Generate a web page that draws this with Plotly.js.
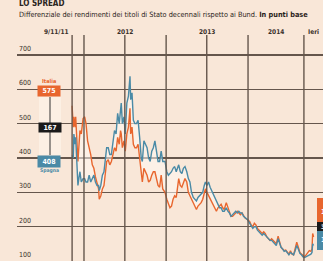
<!DOCTYPE html>
<html><head><meta charset="utf-8">
<script src="https://cdn.plot.ly/plotly-3.0.1.min.js"></script>
<style>html,body{margin:0;padding:0;background:#f9e7d8;overflow:hidden}#chart{width:323px;height:261px}</style>
</head><body><div id="chart"></div>
<script>
const dates = ["2011-11-09","2011-11-14","2011-11-17","2011-11-22","2011-11-25","2011-11-30","2011-12-05","2011-12-09","2011-12-14","2011-12-20","2011-12-28",
"2012-01-04","2012-01-10","2012-01-17","2012-01-24","2012-01-31","2012-02-07","2012-02-14","2012-02-21","2012-02-28","2012-03-06","2012-03-09","2012-03-16","2012-03-23","2012-03-30",
"2012-04-06","2012-04-11","2012-04-18","2012-04-25","2012-05-02","2012-05-09","2012-05-16","2012-05-23","2012-05-30","2012-06-06","2012-06-12","2012-06-15","2012-06-20","2012-06-27",
"2012-07-03","2012-07-10","2012-07-17","2012-07-24","2012-07-27","2012-08-02","2012-08-08","2012-08-15","2012-08-22","2012-08-29","2012-09-05","2012-09-12","2012-09-17","2012-09-24",
"2012-10-01","2012-10-08","2012-10-15","2012-10-22","2012-10-29","2012-11-05","2012-11-12","2012-11-19","2012-11-26","2012-12-03","2012-12-10","2012-12-17","2012-12-27",
"2013-01-04","2013-01-11","2013-01-18","2013-01-25","2013-02-01","2013-02-08","2013-02-15","2013-02-26","2013-03-05","2013-03-12","2013-03-19","2013-03-26","2013-04-03","2013-04-10","2013-04-17","2013-04-24",
"2013-05-02","2013-05-09","2013-05-16","2013-05-23","2013-05-30","2013-06-06","2013-06-13","2013-06-20","2013-06-25","2013-07-02","2013-07-09","2013-07-16","2013-07-23","2013-07-30",
"2013-08-06","2013-08-13","2013-08-20","2013-08-27","2013-09-03","2013-09-10","2013-09-17","2013-09-26","2013-10-03","2013-10-10","2013-10-17","2013-10-24","2013-10-31",
"2013-11-07","2013-11-14","2013-11-21","2013-11-28","2013-12-05","2013-12-12","2013-12-19","2013-12-30",
"2014-01-08","2014-01-15","2014-01-22","2014-01-29","2014-02-05","2014-02-12","2014-02-19","2014-02-26","2014-03-05","2014-03-12","2014-03-19","2014-03-26",
"2014-04-02","2014-04-09","2014-04-16","2014-04-23","2014-04-30","2014-05-07","2014-05-15","2014-05-21","2014-05-28","2014-06-04","2014-06-11","2014-06-18","2014-06-25",
"2014-07-02","2014-07-09","2014-07-16","2014-07-23","2014-07-30","2014-08-06","2014-08-13","2014-08-20","2014-08-27","2014-09-03","2014-09-10","2014-09-17","2014-09-24",
"2014-10-01","2014-10-08","2014-10-13","2014-10-16","2014-10-20"];
const italia = [552,490,520,490,520,470,390,430,480,470,515,
520,500,450,430,410,380,370,345,330,310,280,290,310,320,
360,390,395,380,390,410,430,420,460,440,480,470,430,450,
420,470,490,545,470,490,440,430,430,440,400,350,330,370,
360,350,330,335,350,360,360,340,320,315,350,310,300,
280,265,255,260,280,290,285,340,320,315,330,340,330,300,290,280,
265,255,250,260,265,270,280,300,310,300,290,280,270,260,
250,245,255,260,265,255,250,270,255,240,230,230,235,
240,245,240,235,240,230,225,220,
215,205,200,210,205,195,190,185,180,185,180,170,
165,160,165,160,155,150,172,155,140,135,130,132,125,
120,130,120,118,135,155,140,125,120,115,112,118,125,
130,128,135,180,170];
const spagna = [408,400,470,440,460,390,320,340,360,330,340,
340,330,330,350,330,340,350,330,320,320,305,320,350,360,
400,430,430,410,410,450,480,470,530,500,540,560,500,520,
470,560,580,638,570,590,510,500,500,510,460,400,390,450,
440,430,400,390,420,430,450,420,390,390,420,390,390,
360,350,355,360,370,375,360,380,360,355,370,375,360,340,330,300,
285,280,275,285,290,295,300,320,330,320,330,315,305,295,
285,270,265,255,255,245,245,255,245,240,230,235,240,
245,240,245,240,240,230,225,220,
210,200,195,200,200,190,185,180,175,180,175,170,
165,160,160,155,150,145,165,150,140,135,128,130,125,
118,125,120,118,130,145,135,122,118,112,110,112,115,
118,120,125,150,145];
const yTicks = [100,200,300,400,500,600,700];
const lineDates = ["2011-11-09","2012-01-01","2012-07-01","2013-01-01","2013-07-01","2014-01-01","2014-09-07"];
const topLabels = [
  {d:"2011-11-09", t:"9/11/11", a:"right"},
  {d:"2012-07-01", t:"2012", a:"center"},
  {d:"2013-07-01", t:"2013", a:"center"},
  {d:"2014-05-06", t:"2014", a:"center"},
  {d:"2014-09-07", t:"Ieri", a:"left"}];
const startVals = {italia:575, diff:167, spagna:408};
const endVals = {italia:188, diff:38, spagna:150};

const ORANGE = "#e8662e", BLUE = "#4a8aa6", GRID = "#65564c", BG = "#f9e7d8";
const FONT = "DejaVu Sans Condensed, Liberation Sans Narrow, Arial Narrow, sans-serif";
const L=17, T=30, W=306, H=231;
const px = x => (x-L)/W, py = y => (T+H-y)/H;

const traces = [
  {x:dates, y:italia, type:"scatter", mode:"lines", line:{color:ORANGE, width:1.4}, hoverinfo:"skip"},
  {x:dates, y:spagna, type:"scatter", mode:"lines", line:{color:BLUE, width:1.4}, fill:"tonexty", fillcolor:"rgba(255,250,244,0.55)", hoverinfo:"skip"}
];

const shapes = lineDates.map(d => ({type:"line", xref:"x", yref:"paper", x0:d, x1:d, y0:0, y1:py(35), line:{color:GRID, width:1.4}}));
shapes.push({type:"rect", xref:"paper", yref:"paper", x0:px(39), x1:px(61), y0:py(155), y1:py(97), fillcolor:"rgba(255,250,245,0.45)", line:{width:0}, layer:"below"});
shapes.push({type:"line", xref:"paper", yref:"paper", x0:px(50), x1:px(50), y0:py(155), y1:py(97), line:{color:"#333", width:1}});
shapes.push({type:"rect", xref:"paper", yref:"paper", x0:px(317), x1:px(335), y0:py(222), y1:py(198), fillcolor:ORANGE, line:{width:0}});
shapes.push({type:"rect", xref:"paper", yref:"paper", x0:px(317), x1:px(335), y0:py(231), y1:py(222), fillcolor:"#1a1a1a", line:{width:0}});
shapes.push({type:"rect", xref:"paper", yref:"paper", x0:px(317), x1:px(335), y0:py(250), y1:py(231), fillcolor:BLUE, line:{width:0}});

const ann = [];
yTicks.forEach(v => ann.push({xref:"paper", yref:"y", x:0, y:v, xanchor:"left", yanchor:"bottom", yshift:0, text:String(v), showarrow:false, font:{family:FONT, size:7, color:"#3a302a"}}));
topLabels.forEach(o => ann.push({xref:"x", yref:"paper", x:o.d, y:py(32), xanchor:o.a, yanchor:"middle", xshift:o.a==="right"?-1:(o.a==="left"?2:0), text:"<b>"+o.t+"</b>", showarrow:false, font:{family:FONT, size:6.5, color:"#3a302a"}}));
ann.push({xref:"paper", yref:"paper", x:0, y:py(3.5), xanchor:"left", yanchor:"middle", text:"<b>LO SPREAD</b>", showarrow:false, font:{family:FONT, size:8, color:"#2a2420"}});
ann.push({xref:"paper", yref:"paper", x:0, y:py(14.5), xanchor:"left", yanchor:"middle", text:"Differenziale dei rendimenti dei titoli di Stato decennali rispetto ai Bund. <b>In punti base</b>", showarrow:false, font:{family:FONT, size:7.3, color:"#2a2420"}});
ann.push({xref:"paper", yref:"paper", x:px(-12), y:py(34), xanchor:"center", yanchor:"middle", text:"<b><i>p</i></b>", showarrow:false, font:{family:"DejaVu Serif, serif", size:16, color:"#3a302a"}});
// left boxes
ann.push({xref:"paper", yref:"paper", x:px(49), y:py(81), xanchor:"center", yanchor:"middle", text:"<b>Italia</b>", showarrow:false, font:{family:FONT, size:5.5, color:ORANGE}});
ann.push({xref:"paper", yref:"paper", x:px(49), y:py(91), xanchor:"center", yanchor:"middle", text:"<b>"+startVals.italia+"</b>", showarrow:false, bgcolor:ORANGE, width:22, height:10, borderpad:0, font:{family:FONT, size:7, color:"#fff"}});
ann.push({xref:"paper", yref:"paper", x:px(50), y:py(127), xanchor:"center", yanchor:"middle", text:"<b>"+startVals.diff+"</b>", showarrow:false, bgcolor:"#1a1a1a", width:22, height:9, borderpad:0, font:{family:FONT, size:7, color:"#fff"}});
ann.push({xref:"paper", yref:"paper", x:px(49), y:py(161), xanchor:"center", yanchor:"middle", text:"<b>"+startVals.spagna+"</b>", showarrow:false, bgcolor:BLUE, width:22, height:11, borderpad:0, font:{family:FONT, size:7, color:"#fff"}});
ann.push({xref:"paper", yref:"paper", x:px(49), y:py(170), xanchor:"center", yanchor:"middle", text:"<b>Spagna</b>", showarrow:false, font:{family:FONT, size:5, color:BLUE}});
// right boxes (cut by the frame)
ann.push({xref:"paper", yref:"paper", x:px(318.5), y:py(212), xanchor:"left", yanchor:"middle", text:"<b>"+endVals.italia+"</b>", showarrow:false, font:{family:FONT, size:7, color:"#fff"}});
ann.push({xref:"paper", yref:"paper", x:px(318.5), y:py(226.5), xanchor:"left", yanchor:"middle", text:"<b>"+endVals.diff+"</b>", showarrow:false, font:{family:FONT, size:6, color:"#fff"}});
ann.push({xref:"paper", yref:"paper", x:px(318.5), y:py(240), xanchor:"left", yanchor:"middle", text:"<b>"+endVals.spagna+"</b>", showarrow:false, font:{family:FONT, size:7, color:"#fff"}});

const layout = {
  width:323, height:261, margin:{l:L, r:0, t:T, b:0},
  paper_bgcolor:BG, plot_bgcolor:BG, showlegend:false,
  xaxis:{type:"date", range:["2011-03-08 12:00","2014-12-01"], showgrid:false, zeroline:false, showticklabels:false, ticks:"", showline:false, fixedrange:true},
  yaxis:{range:[100,772.8], tickvals:yTicks, showgrid:true, gridcolor:GRID, gridwidth:1.4, zeroline:false, showticklabels:false, ticks:"", showline:false, fixedrange:true},
  shapes:shapes, annotations:ann
};
Plotly.newPlot("chart", traces, layout, {staticPlot:true, displayModeBar:false});
</script></body></html>
